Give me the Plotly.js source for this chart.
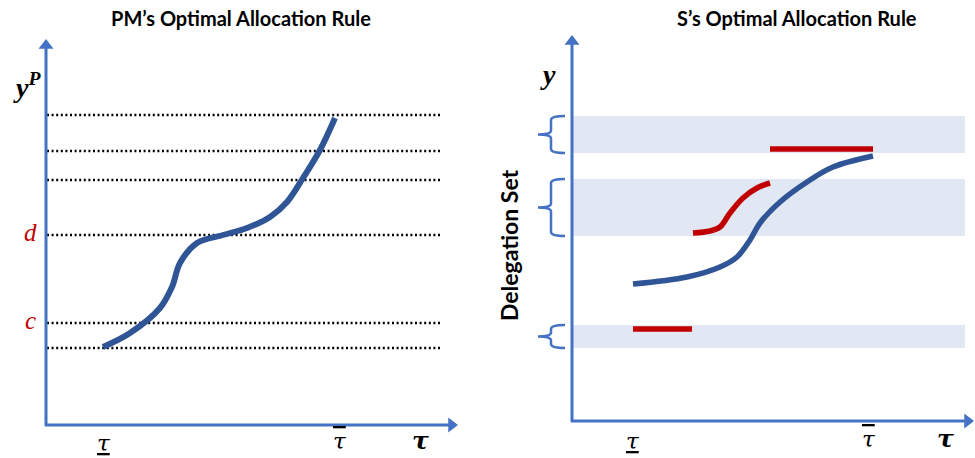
<!DOCTYPE html>
<html>
<head>
<meta charset="utf-8">
<script src="https://cdn.plot.ly/plotly-3.0.1.min.js"></script>
<style>html,body{margin:0;padding:0;background:#fff}#chart{width:975px;height:458px}</style>
</head>
<body>
<div id="chart"></div>
<script>
// ---- Left panel: PM's optimal allocation rule ----
const pmTau = [57, 84, 114, 126, 134, 151, 177, 201, 224, 241, 257, 274, 289];
const pmY   = [78, 92, 117, 138, 162, 182, 190, 197, 208, 223, 247, 275, 307];
const levels = [310, 274, 245, 190, 102, 77];
const levelTauRange = [1, 394];
const levelLabels = [{name: 'd', y: 190}, {name: 'c', y: 102}];

// ---- Right panel: S's optimal allocation rule ----
const sTau = [61, 115, 148, 165, 178, 188, 208, 235, 261, 301];
const sY   = [137, 144, 154, 164, 181, 198, 219, 239, 254, 265];
const red1Tau = [61, 120];           const red1Y = [92, 92];
const red2Tau = [121, 138, 148, 158, 171, 185, 198];
const red2Y   = [188, 190, 194, 208, 223, 233, 238];
const red3Tau = [198, 301];          const red3Y = [272, 272];
const delegationSets = [[268, 305], [185, 242], [73, 96]];
const bandTauRange = [1, 393];

// axis extents (tip of arrows) for each panel
const leftAxisTip = {x: 412, y: 386};
const rightAxisTip = {x: 402, y: 386};

const tauLow = 'τ', tauHigh = 'τ', tauAxis = 'τ';

const BLUE = '#2F5597', RED = '#C00000', AX = '#4472C4', BAND = '#E1E7F3';
const traces = [];
const shapes = [];

// delegation-set bands (below everything) and braces
delegationSets.forEach(([lo, hi]) => {
  shapes.push({type: 'rect', xref: 'x2', yref: 'y2', x0: bandTauRange[0], x1: bandTauRange[1],
    y0: lo, y1: hi, fillcolor: BAND, line: {width: 0}, layer: 'below'});
  const ex = -7, xv = -21, xt = -34, r = 4, ym = (lo + hi) / 2;
  const p = `M ${ex},${hi} Q ${xv},${hi} ${xv},${hi - r} L ${xv},${ym + r} Q ${xv},${ym} ${xt},${ym}` +
            ` Q ${xv},${ym} ${xv},${ym - r} L ${xv},${lo + r} Q ${xv},${lo} ${ex},${lo}`;
  shapes.push({type: 'path', xref: 'x2', yref: 'y2', path: p, line: {color: AX, width: 2.5}});
});

// axes with arrowheads
const HEAD = 13, R = HEAD / 2;
[['x', 'y', leftAxisTip], ['x2', 'y2', rightAxisTip]].forEach(([xr, yr, tip]) => {
  shapes.push({type: 'line', xref: xr, yref: yr, x0: 0, y0: -1, x1: 0, y1: tip.y - R, line: {color: AX, width: 3}});
  shapes.push({type: 'line', xref: xr, yref: yr, x0: -1, y0: 0, x1: tip.x - R, y1: 0, line: {color: AX, width: 3}});
  traces.push({x: [0, tip.x - R], y: [tip.y - R, 0], xaxis: xr, yaxis: yr, mode: 'markers', hoverinfo: 'skip',
    marker: {symbol: ['triangle-up', 'triangle-right'], size: HEAD, color: AX, line: {width: 0}}, cliponaxis: false});
});

// dotted levels (left)
const dx = [], dy = [];
levels.forEach(l => { dx.push(levelTauRange[0], levelTauRange[1], null); dy.push(l, l, null); });
traces.push({x: dx, y: dy, xaxis: 'x', yaxis: 'y', mode: 'lines', hoverinfo: 'skip',
  line: {color: '#000', width: 2.5, dash: '2px,2.6px'}});
traces.push({x: pmTau, y: pmY, xaxis: 'x', yaxis: 'y', mode: 'lines', hoverinfo: 'skip',
  line: {color: BLUE, width: 6, shape: 'spline', smoothing: 1}});

// right curves
traces.push({x: sTau, y: sY, xaxis: 'x2', yaxis: 'y2', mode: 'lines', hoverinfo: 'skip',
  line: {color: BLUE, width: 5.5, shape: 'spline', smoothing: 1}});
[[red1Tau, red1Y], [red2Tau, red2Y], [red3Tau, red3Y]].forEach(([xs, ys]) => {
  traces.push({x: xs, y: ys, xaxis: 'x2', yaxis: 'y2', mode: 'lines', hoverinfo: 'skip',
    line: {color: RED, width: 5.5, shape: 'spline', smoothing: 1}});
});

const serif = 'Liberation Serif, DejaVu Serif, serif';
const tauFont = 'DejaVu Serif, serif';
const titleFont = {family: 'Lato, sans-serif', size: 20, weight: 'bold', color: '#000'};
const ann = [
  {xref: 'paper', yref: 'paper', x: 241 / 975, y: 1 - 18 / 458, xanchor: 'center', yanchor: 'middle',
    text: "PM’s Optimal Allocation Rule", showarrow: false, font: titleFont},
  {xref: 'paper', yref: 'paper', x: 797 / 975, y: 1 - 18 / 458, xanchor: 'center', yanchor: 'middle',
    text: "S’s Optimal Allocation Rule", showarrow: false, font: titleFont},
  {xref: 'x', yref: 'y', x: -19, y: 340, text: '<b><i>y</i></b><b><i><sup>P</sup></i></b>', showarrow: false,
    font: {family: serif, size: 28, color: '#000'}},
  {xref: 'x2', yref: 'y2', x: -24, y: 347, text: '<b><i>y</i></b>', showarrow: false,
    font: {family: serif, size: 28, color: '#000'}},
  {xref: 'x2', yref: 'y2', x: -63, y: 176, text: 'Delegation Set', textangle: -90, showarrow: false,
    font: {family: 'Lato, sans-serif', size: 23, weight: 'bold', color: '#000'}},
];
levelLabels.forEach(l => ann.push({xref: 'x', yref: 'y', x: -16, y: l.y + 3, text: '<i>' + l.name + '</i>', showarrow: false,
  font: {family: serif, size: 25, color: RED}}));
[['x', 'y', 58, -18, 294, -16, 374, -15], ['x2', 'y2', 61, -20, 297, -18, 373, -17]].forEach(a => {
  ann.push({xref: a[0], yref: a[1], x: a[2], y: a[3], text: '<i>' + tauLow + '</i>', showarrow: false,
    font: {family: tauFont, size: 23, color: '#000', lineposition: 'under'}});
  ann.push({xref: a[0], yref: a[1], x: a[4], y: a[5], text: '<i>' + tauHigh + '</i>', showarrow: false,
    font: {family: tauFont, size: 23, color: '#000', lineposition: 'over'}});
  ann.push({xref: a[0], yref: a[1], x: a[6], y: a[7], text: '<b><i>' + tauAxis + '</i></b>', showarrow: false,
    font: {family: tauFont, size: 25, color: '#000'}});
});

const hid = {showgrid: false, zeroline: false, showticklabels: false, ticks: '', showline: false, fixedrange: true};
const layout = {
  width: 975, height: 458, margin: {l: 0, r: 0, t: 0, b: 0},
  paper_bgcolor: '#fff', plot_bgcolor: 'rgba(0,0,0,0)', showlegend: false,
  xaxis: Object.assign({}, hid, {domain: [0, 487 / 975], range: [-46, 441]}),
  yaxis: Object.assign({}, hid, {domain: [0, 1], range: [-33, 425]}),
  xaxis2: Object.assign({}, hid, {domain: [487 / 975, 1], range: [-85, 403], anchor: 'y2'}),
  yaxis2: Object.assign({}, hid, {domain: [0, 1], range: [-37, 421], anchor: 'x2'}),
  shapes: shapes, annotations: ann
};
Plotly.newPlot('chart', traces, layout, {displayModeBar: false, staticPlot: true});
</script>
</body>
</html>
